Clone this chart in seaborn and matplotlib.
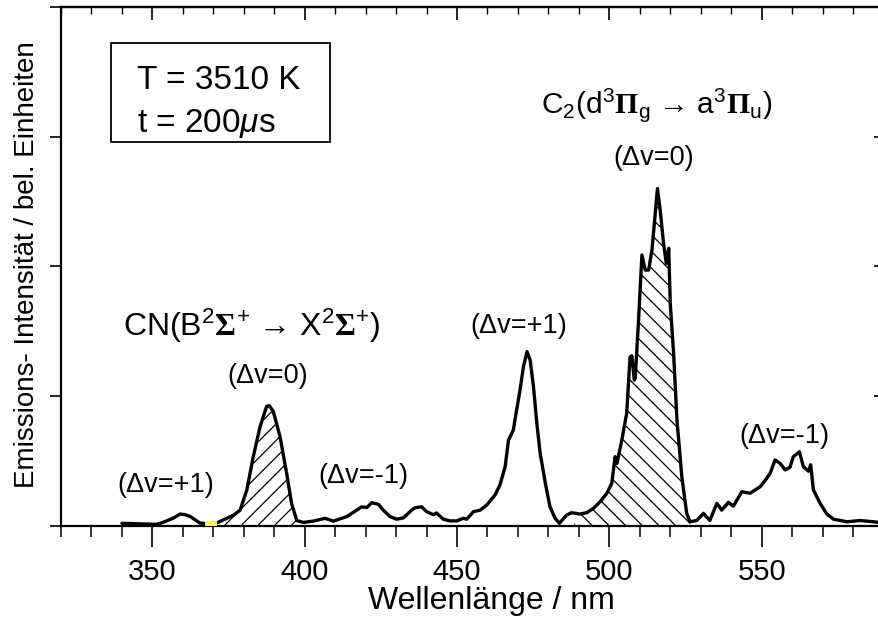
import numpy as np
import pandas as pd
import matplotlib
matplotlib.use("Agg")
import matplotlib.pyplot as plt
import seaborn as sns
from matplotlib.ticker import MultipleLocator, FixedLocator
from matplotlib.patches import Rectangle

# ---------------- data ----------------
wavelength_nm = [
    340.0, 345.0, 351.4, 354.0, 357.0, 359.1, 360.7, 362.5, 365.6, 368.0,
    371.1, 374.4, 376.6, 378.8, 381.0, 383.1, 385.3, 387.5, 388.4, 389.7,
    391.9, 394.1, 395.7, 397.4, 399.5, 402.8, 406.7, 409.4, 413.8, 417.1,
    418.7, 420.4, 422.0, 424.2, 425.8, 428.0, 430.2, 432.4, 435.1, 436.2,
    438.4, 440.0, 442.2, 443.3, 445.5, 447.7, 449.9, 452.1, 453.2, 455.4,
    457.6, 459.8, 462.5, 464.1, 465.8, 466.9, 468.5, 469.1, 470.7, 471.8,
    473.0, 474.0, 475.1, 476.2, 477.3, 479.0, 480.5, 482.2, 483.6, 486.0,
    487.6, 490.4, 492.6, 494.8, 497.0, 499.2, 500.8, 501.9, 502.5, 504.1,
    505.7, 506.8, 507.4, 508.2, 508.5, 509.6, 510.7, 511.8, 512.9, 514.0,
    515.8, 516.7, 517.8, 518.7, 519.5, 520.0, 521.1, 522.2, 523.8, 525.4,
    526.5, 528.7, 530.9, 533.0, 535.3, 536.9, 539.1, 540.7, 543.5, 546.2,
    549.5, 551.2, 552.8, 554.4, 556.1, 557.7, 559.3, 560.4, 562.4, 563.7,
    565.4, 566.1, 567.0, 569.2, 571.4, 573.6, 578.0, 582.3, 586.7, 590.0,
]
intensity = [
    0.018, 0.015, 0.010, 0.030, 0.060, 0.090, 0.085, 0.070, 0.020, 0.015,
    0.020, 0.057, 0.080, 0.120, 0.275, 0.530, 0.760, 0.920, 0.925, 0.880,
    0.686, 0.400, 0.170, 0.040, 0.025, 0.035, 0.057, 0.035, 0.070, 0.120,
    0.145, 0.140, 0.177, 0.165, 0.120, 0.070, 0.050, 0.060, 0.120, 0.138,
    0.146, 0.108, 0.085, 0.098, 0.050, 0.037, 0.037, 0.057, 0.050, 0.108,
    0.120, 0.160, 0.237, 0.314, 0.455, 0.660, 0.738, 0.828, 1.046, 1.226,
    1.342, 1.278, 1.072, 0.790, 0.558, 0.327, 0.147, 0.057, 0.018, 0.082,
    0.100, 0.090, 0.100, 0.134, 0.185, 0.250, 0.327, 0.532, 0.480, 0.660,
    0.867, 1.300, 1.310, 1.123, 1.136, 1.586, 2.087, 1.971, 1.971, 2.126,
    2.600, 2.434, 2.177, 2.023, 2.139, 1.715, 1.329, 0.815, 0.378, 0.095,
    0.030, 0.040, 0.095, 0.040, 0.172, 0.120, 0.180, 0.150, 0.262, 0.250,
    0.300, 0.350, 0.404, 0.507, 0.480, 0.430, 0.450, 0.532, 0.570, 0.455,
    0.420, 0.470, 0.275, 0.172, 0.090, 0.050, 0.030, 0.040, 0.030, 0.020,
]

cn_band_range = (371.5, 397.5)     # hatched CN (dv=0) band
c2_band_range = (488.5, 526.5)     # hatched C2 (dv=0) band
marker_range = (367.3, 371.1)      # small yellow mark on the axis
marker_level = [0.012, 0.012]

x_major_ticks = [350, 400, 450, 500, 550]
x_tick_labels = ["350", "400", "450", "500", "550"]
y_ticks = [0, 1, 2, 3, 4]

band_labels = [
    ("(\u0394v=+1)", 354.4, 0.262),
    ("(\u0394v=0)", 387.8, 1.10),
    ("(\u0394v=-1)", 419.4, 0.327),
    ("(\u0394v=+1)", 470.2, 1.484),
    ("(\u0394v=0)", 514.4, 2.78),
    ("(\u0394v=-1)", 557.6, 0.635),
]
cn_title = r"CN(B$^{2}\mathbf{\Sigma}^{+}$ \u2192 X$^{2}\mathbf{\Sigma}^{+}$)".replace("\\u2192", "\u2192")
cn_title_pos = (382.6, 1.46)
c2_title = r"C$_{2}$(d$^{3}\mathbf{\Pi}_{\mathrm{g}}$ \u2192 a$^{3}\mathbf{\Pi}_{\mathrm{u}}$)".replace("\\u2192", "\u2192")
c2_title_pos = (515.6, 3.18)
box_lines = ["T = 3510 K", r"t = 200$\mu$s"]

# ---------------- style ----------------
sns.set_theme(style="ticks")
plt.rcParams["font.family"] = ["Liberation Sans", "DejaVu Sans"]
plt.rcParams["mathtext.fontset"] = "custom"
plt.rcParams["mathtext.rm"] = "Liberation Sans"
plt.rcParams["mathtext.it"] = "Liberation Sans:italic"
plt.rcParams["mathtext.bf"] = "Liberation Serif:bold"
plt.rcParams["hatch.linewidth"] = 0.9
plt.rcParams["hatch.color"] = "black"
for k in ["text.color", "axes.labelcolor", "xtick.color", "ytick.color",
          "axes.edgecolor"]:
    plt.rcParams[k] = "black"

fig = plt.figure(figsize=(8.79, 6.21), dpi=100)
ax = fig.add_axes([0.0694, 0.1535, 0.9357, 0.8353])

df = pd.DataFrame({"nm": wavelength_nm, "I": intensity})
sns.lineplot(data=df, x="nm", y="I", ax=ax, color="black", linewidth=2.4,
             sort=False, zorder=4)

wl = np.array(wavelength_nm)
it = np.array(intensity)


def band_fill(rng, hatch):
    inside = (wl > rng[0]) & (wl < rng[1])
    xf = np.concatenate(([rng[0]], wl[inside], [rng[1]]))
    yf = np.interp(xf, wl, it)
    ax.fill_between(xf, yf, 0, facecolor="none", edgecolor="black",
                    hatch=hatch, linewidth=0, zorder=3)


band_fill(cn_band_range, "//")
band_fill(c2_band_range, "\\\\")

ax.plot(marker_range, marker_level, color="#f7f25a", linewidth=4.5,
        solid_capstyle="butt", zorder=6)

ax.set_xlim(320, 590)
ax.set_ylim(0, 4)

ax.xaxis.set_major_locator(FixedLocator(x_major_ticks))
ax.set_xticklabels(x_tick_labels)
ax.xaxis.set_minor_locator(MultipleLocator(10))
ax.tick_params(axis="x", which="major", direction="out", length=15, width=1.2,
               labelsize=21, pad=8, colors="black")
ax.tick_params(axis="x", which="minor", direction="out", length=8, width=1.1)
ax.set_yticks(y_ticks)
ax.set_yticklabels([])
ax.tick_params(axis="y", which="major", direction="out", length=8, width=1.2)

for s in ax.spines.values():
    s.set_visible(True)
    s.set_linewidth(1.6)
    s.set_color("black")

secx = ax.secondary_xaxis("top")
secx.xaxis.set_major_locator(FixedLocator(x_major_ticks))
secx.xaxis.set_minor_locator(MultipleLocator(10))
secx.tick_params(which="major", direction="in", length=9.5, width=1.2,
                 labeltop=False)
secx.tick_params(which="minor", direction="in", length=5, width=1.0)
secx.spines["top"].set_linewidth(1.6)

secy = ax.secondary_yaxis("right")
secy.yaxis.set_major_locator(FixedLocator(y_ticks))
secy.tick_params(which="major", direction="in", length=6.5, width=1.2,
                 labelright=False)
secy.spines["right"].set_linewidth(1.6)

ax.set_xlabel("Wellenl\u00e4nge / nm", fontsize=23, color="black")
ax.xaxis.set_label_coords(0.523, -0.116)
ax.set_ylabel("Emissions- Intensit\u00e4t / bel. Einheiten", fontsize=20,
              color="black")
ax.yaxis.set_label_coords(-0.026, 0.503)

for txt, xx, yy in band_labels:
    ax.text(xx, yy, txt, fontsize=19.5, ha="center", va="baseline",
            color="black")

ax.text(*cn_title_pos, cn_title, fontsize=23, ha="center", va="baseline",
        color="black")
ax.text(*c2_title_pos, c2_title, fontsize=21.5, ha="center", va="baseline",
        color="black")

ax.add_patch(Rectangle((0.0608, 0.740), 0.2663, 0.190, transform=ax.transAxes,
                       fill=False, edgecolor="black", linewidth=1.3, zorder=5))
ax.text(0.092, 0.841, box_lines[0], transform=ax.transAxes, fontsize=24,
        va="baseline", ha="left", color="black")
ax.text(0.092, 0.7596, box_lines[1], transform=ax.transAxes, fontsize=24,
        va="baseline", ha="left", color="black")

fig.savefig("out.png", dpi=100)
